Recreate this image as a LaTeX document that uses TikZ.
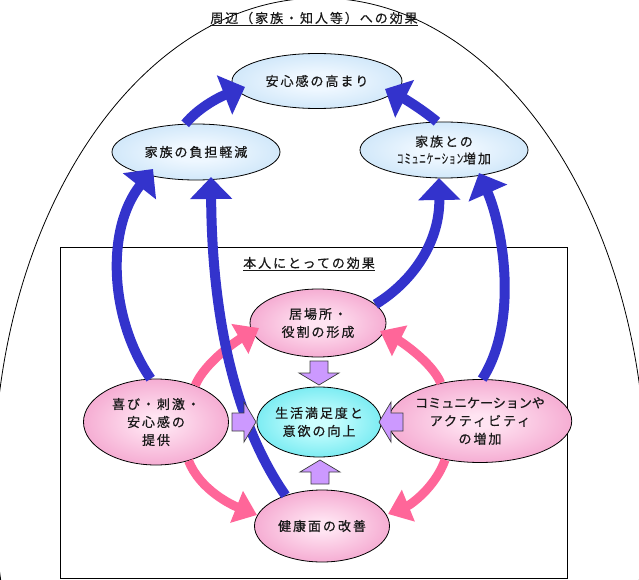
\documentclass[tikz,border=0pt]{standalone}
\usepackage{fontspec}
\usepackage{graphicx}
\setmainfont{Noto Sans CJK JP}
\newfontfamily\jpsp[LetterSpace=15,FakeBold=0.6]{Noto Sans CJK JP}
\newfontfamily\jpn[FakeBold=0.6]{Noto Sans CJK JP}
\usetikzlibrary{arrows.meta,shapes.geometric}
\definecolor{arrblue}{RGB}{51,51,204}
\definecolor{arrpink}{RGB}{255,102,153}
\definecolor{purp}{RGB}{204,153,255}
\definecolor{bluec}{RGB}{238,247,255}
\definecolor{bluee}{RGB}{168,210,242}
\definecolor{pinkc}{RGB}{255,228,242}
\definecolor{pinke}{RGB}{234,108,174}
\definecolor{cyanc}{RGB}{205,255,255}
\definecolor{cyane}{RGB}{30,214,228}
\pgfdeclareradialshading{pinkshade}{\pgfpoint{0bp}{0bp}}{color(0bp)=(pinkc); color(4bp)=(pinkc); color(50bp)=(pinke)}
\pgfdeclareradialshading{blueshade}{\pgfpoint{0bp}{0bp}}{color(0bp)=(bluec); color(8bp)=(bluec); color(50bp)=(bluee)}
\pgfdeclareradialshading{cyanshade}{\pgfpoint{0bp}{0bp}}{color(0bp)=(cyanc); color(4bp)=(cyanc); color(50bp)=(cyane)}
\tikzset{
  ell/.style={ellipse, draw=black, line width=0.8pt, inner sep=0pt, align=center,
    font=\jpsp\fontsize{13}{18}\selectfont, text=black!90},
  pinkell/.style={ell, shade, shading=pinkshade},
  blueell/.style={ell, shade, shading=blueshade},
  cyanell/.style={ell, shade, shading=cyanshade},
  bluearr/.style={draw=arrblue, line width=10pt, -{Triangle[width=41pt,length=22pt]}},
  pinkarr/.style={draw=arrpink, line width=9pt, -{Triangle[width=33pt,length=22pt]}},
  ttl/.style={font=\jpsp\fontsize{13}{16}\selectfont, text=black!90, inner sep=0pt},
  blk/.pic={\draw[fill=purp, draw=black!75, line width=0.7pt, line join=miter]
     (-24,-9)--(-12,-9)--(-12,-20)--(0,0)--(-12,20)--(-12,9)--(-24,9)--cycle;}
}
\begin{document}
\begin{tikzpicture}[x=1pt,y=-1pt]
\useasboundingbox (0,0) rectangle (639,580);
\begin{scope}
  \clip (0,0) rectangle (639,580);
  \draw[line width=0.8pt] (320,482) ellipse [x radius=326, y radius=484];
\end{scope}
\draw[line width=0.8pt] (60,247) rectangle (567,578);

\node[ttl] (t1) at (314,19) {\underline{周辺（家族・知人等）への効果}};
\node[ttl] (t2) at (309,264) {\underline{本人にとっての効果}};

\node[blueell, minimum width=170pt, minimum height=55pt] (anshin) at (317,81) {安心感の高まり};
\node[blueell, minimum width=168pt, minimum height=56pt] (futan) at (196,152) {家族の負担軽減};
\node[blueell, minimum width=168pt, minimum height=56pt] (kazoku) at (444,150) {家族との\\[-1pt]\scalebox{0.5}[1]{コミュニケーション}増加};

\node[pinkell, minimum width=136pt, minimum height=68pt] (ibasho) at (318,323) {居場所・\\役割の形成};
\node[cyanell, minimum width=122pt, minimum height=70pt] (seikatsu) at (319,422) {生活満足度と\\意欲の向上};
\node[pinkell, minimum width=145pt, minimum height=86pt] (yorokobi) at (156,422) {喜び・刺激・\\安心感の\\提供};
\node[pinkell, minimum width=147pt, minimum height=83pt] (comm) at (480,421) {{\jpn コミュニケーションや}\\アクティビティ\\の増加};
\node[pinkell, minimum width=135pt, minimum height=72pt] (kenko) at (322,526) {健康面の改善};

% pink arrows
\draw[pinkarr] (yorokobi.43) .. controls (205,362) and (238,340) .. ([shift={(-59,5)}]ibasho.center);
\draw[pinkarr] (comm.136) .. controls (432,362) and (400,341) .. ([shift={(62,8)}]ibasho.center);
\draw[pinkarr] (yorokobi.-50) .. controls (200,490) and (232,505) .. ([shift={(-65,-11)}]kenko.center);
\draw[pinkarr] (comm.-132) .. controls (435,488) and (410,505) .. ([shift={(66,-12)}]kenko.center);

% blue arrows
\draw[bluearr] (yorokobi.97) .. controls (110,320) and (105,230) .. ([shift={(-43,17)}]futan.center);
\draw[bluearr] (kenko.140) .. controls (240,430) and (212,330) .. ([shift={(15,25)}]futan.center);
\draw[bluearr] (ibasho.18) .. controls (415,280) and (440,240) .. ([shift={(-5,28)}]kazoku.center);
\draw[bluearr] (comm.87) .. controls (520,320) and (502,225) .. ([shift={(35,23)}]kazoku.center);
\draw[bluearr] (futan.111) .. controls (200,106) and (222,96) .. ([shift={(-72,6)}]anshin.center);
\draw[bluearr] (kazoku.104) .. controls (423,110) and (405,99) .. ([shift={(68,8)}]anshin.center);

% block arrows into the centre
\pic[rotate=-90] at ([shift={(0,-37)}]seikatsu.center) {blk};
\pic[rotate=90] at ([shift={(1,38)}]seikatsu.center) {blk};
\pic at ([shift={(-63,0)}]seikatsu.center) {blk};
\pic[rotate=180] at ([shift={(60,0)}]seikatsu.center) {blk};
\end{tikzpicture}
\end{document}
